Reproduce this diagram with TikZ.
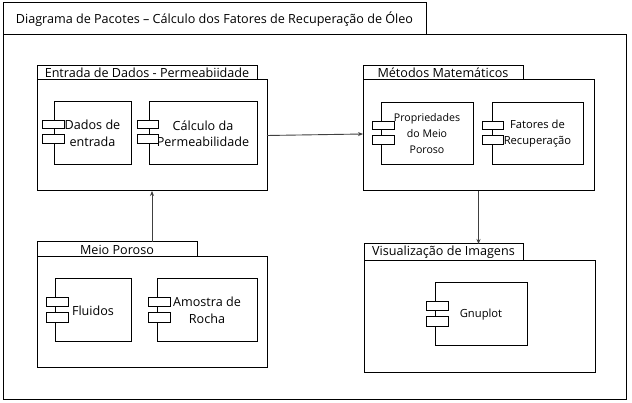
\documentclass[tikz,border=0pt]{standalone}
\usepackage{fontspec}
\setmainfont{Open Sans}
\usetikzlibrary{arrows.meta}
\newcommand\pbox[7][]{\node[box,#1,minimum width={(#5-#3)*1pt},minimum height={(#6-#4)*1pt}] (#2) at ({(#3+#5)/2},{(#4+#6)/2}) {#7};}
\begin{document}
\begin{tikzpicture}[x=1pt,y=-1pt,
  box/.style={draw, line width=1pt, fill=white, inner sep=0pt, outer sep=0pt, align=center, font=\fontsize{12.6}{16.5}\selectfont},
  small/.style={font=\fontsize{11.2}{16}\selectfont},
  smaller/.style={font=\fontsize{10.6}{16}\selectfont},
  arr/.style={draw=black!75, line width=0.9pt, -{Stealth[length=5pt,width=4pt]}}]
\useasboundingbox (0,0) rectangle (632,403);
% outer frame
\pbox{maintab}{3}{3}{426}{35}{Diagrama de Pacotes -- Cálculo dos Fatores de Recuperação de Óleo}
\pbox{mainbody}{3}{35}{626}{399}{}
% package 1
\pbox{p1tab}{37}{66}{257}{80}{Entrada de Dados - Permeabiidade}
\pbox{p1body}{37}{80}{267}{191}{}
\pbox{c11}{54}{102}{131}{165}{Dados de\\entrada}
\pbox{c11a}{42}{121}{64}{129}{}
\pbox{c11b}{42}{135}{64}{144}{}
\pbox{c12}{149}{102}{257}{165}{Cálculo da\\Permeabilidade}
\pbox{c12a}{137}{121}{158}{129}{}
\pbox{c12b}{137}{135}{158}{144}{}
% package 2
\pbox{p2tab}{363}{66}{523}{80}{Métodos Matemáticos}
\pbox{p2body}{363}{80}{594}{191}{}
\pbox[smaller]{c21}{381}{103}{473}{165}{Propriedades\\do Meio\\Poroso}
\pbox{c21a}{372}{122}{394}{130}{}
\pbox{c21b}{372}{136}{394}{145}{}
\pbox[small]{c22}{492}{103}{583}{165}{Fatores de\\Recuperação}
\pbox{c22a}{482}{122}{503}{130}{}
\pbox{c22b}{482}{136}{503}{145}{}
% package 3
\pbox{p3tab}{37}{242}{197}{257}{Meio Poroso}
\pbox{p3body}{37}{257}{267}{367}{}
\pbox{c31}{55}{279}{131}{342}{Fluidos}
\pbox{c31a}{46}{298}{68}{307}{}
\pbox{c31b}{46}{313}{68}{323}{}
\pbox{c32}{157}{279}{257}{342}{Amostra de\\Rocha}
\pbox{c32a}{148}{298}{170}{307}{}
\pbox{c32b}{148}{313}{170}{323}{}
% package 4
\pbox{p4tab}{364}{244}{523}{261}{Visualização de Imagens}
\pbox{p4body}{364}{261}{595}{372}{}
\pbox[small]{c41}{435}{283}{527}{346}{Gnuplot}
\pbox{c41a}{426}{302}{448}{311}{}
\pbox{c41b}{426}{317}{448}{327}{}
% connectors
\draw[arr] (p1body.east) -- (c21.west -| p2body.west);
\draw[arr] (p2body.south) -- (p2body.south |- p4tab.north);
\draw[arr] (p1body.south |- p3tab.north) -- (p1body.south);
\end{tikzpicture}
\end{document}
